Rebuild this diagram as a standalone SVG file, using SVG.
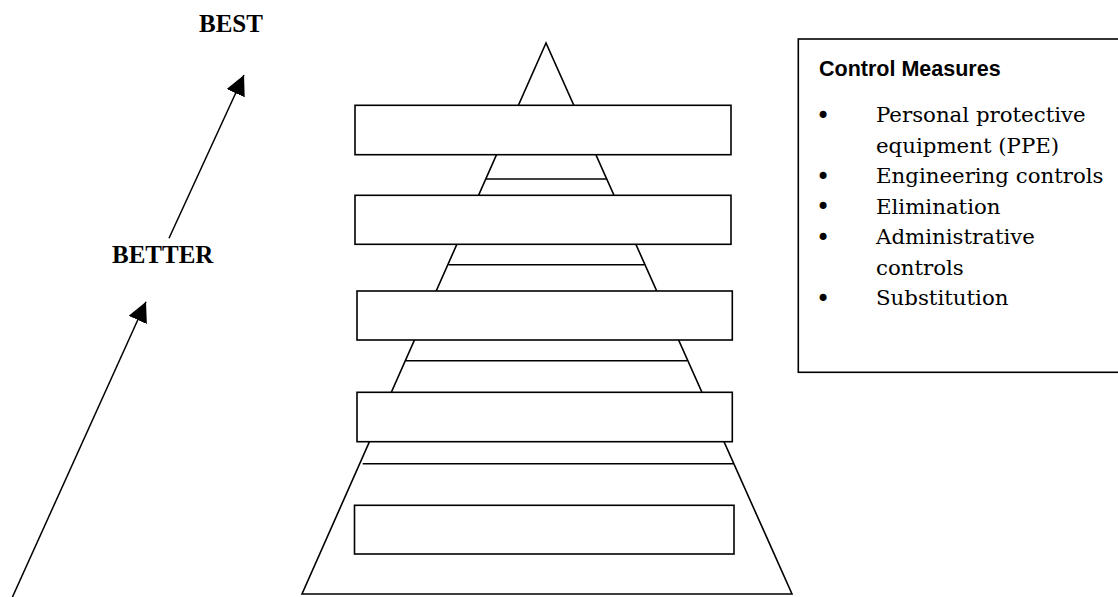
<svg xmlns="http://www.w3.org/2000/svg" width="1118" height="597" viewBox="0 0 1118 597">
<style>
.ln{stroke:#000;stroke-width:1.5;fill:none}
.bx{stroke:#000;stroke-width:1.6;fill:#fff}
.lbl{font-family:"Liberation Serif","Times New Roman",serif;font-weight:bold;font-size:25px;fill:#000}
.hd{font-family:"Liberation Sans",Arial,sans-serif;font-weight:bold;font-size:21.5px;fill:#000}
.it{font-family:"DejaVu Serif","Liberation Serif",serif;font-size:21.3px;fill:#000}
.bul{font-family:"DejaVu Sans","Liberation Sans",sans-serif;font-size:24px;fill:#000}
</style>
<defs>
<marker id="ah" viewBox="0 0 10 10" refX="10" refY="5" markerWidth="20" markerHeight="20" markerUnits="userSpaceOnUse" orient="auto">
<path d="M0,0 L10,5 L0,10 Z" fill="#000"/>
</marker>
</defs>
<rect width="1118" height="597" fill="#fff"/>
<g id="pyramid">
<polygon class="bx" points="546,43 302,594 792,594"/>
<line class="ln" x1="486" y1="179" x2="606.5" y2="179"/>
<line class="ln" x1="448.5" y1="264.7" x2="644.5" y2="264.7"/>
<line class="ln" x1="406" y1="360.7" x2="687" y2="360.7"/>
<line class="ln" x1="362.7" y1="463.7" x2="733.5" y2="463.7"/>
</g>
<g id="tier1"><rect class="bx" x="355" y="105.3" width="376" height="49.4"/></g>
<g id="tier2"><rect class="bx" x="355" y="195.3" width="376" height="49"/></g>
<g id="tier3"><rect class="bx" x="357" y="291" width="375.3" height="49"/></g>
<g id="tier4"><rect class="bx" x="357" y="392.3" width="375.3" height="49.4"/></g>
<g id="tier5"><rect class="bx" x="354.5" y="505.3" width="379.5" height="48.7"/></g>
<g id="best"><text class="lbl" x="199" y="31.7">BEST</text></g>
<g id="better"><text class="lbl" x="112" y="263.3">BETTER</text></g>
<g id="connectors">
<line class="ln" x1="12" y1="598" x2="146" y2="301.7" marker-end="url(#ah)"/>
<line class="ln" x1="169" y1="238.3" x2="244" y2="75" marker-end="url(#ah)"/>
</g>
<g id="control-measures">
<rect class="bx" x="798.3" y="39" width="330" height="333.3"/>
<text class="hd" x="819" y="76">Control Measures</text>
<g class="bul" text-anchor="middle">
<text x="823" y="124">•</text>
<text x="823" y="184.7">•</text>
<text x="823" y="215.2">•</text>
<text x="823" y="245.7">•</text>
<text x="823" y="306.5">•</text>
</g>
<g class="it">
<text x="876" y="122.3">Personal protective</text>
<text x="876" y="152.7">equipment (PPE)</text>
<text x="876" y="183">Engineering controls</text>
<text x="876" y="213.5">Elimination</text>
<text x="876" y="244">Administrative</text>
<text x="876" y="274.5">controls</text>
<text x="876" y="304.8">Substitution</text>
</g>
</g>
</svg>
